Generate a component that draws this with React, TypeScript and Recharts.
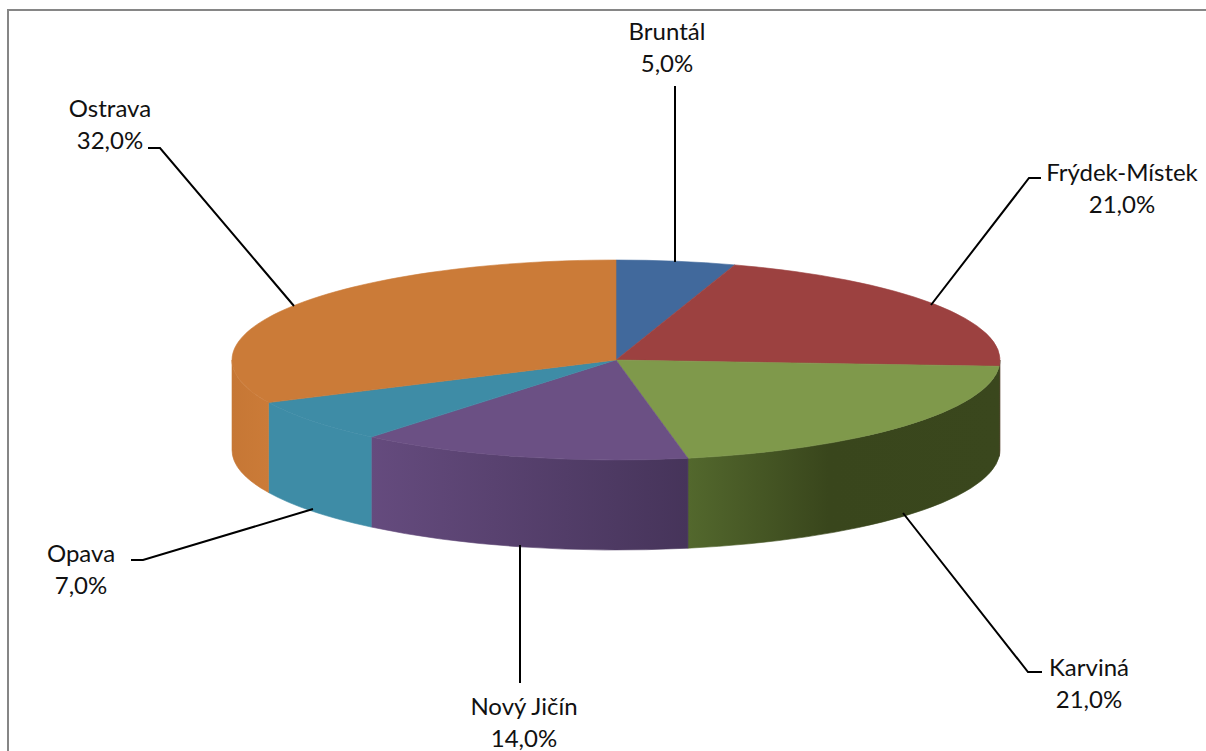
import { PieChart, Pie } from 'recharts';

const categories = ['Bruntál', 'Frýdek-Místek', 'Karviná', 'Nový Jičín', 'Opava', 'Ostrava'];
const shares = [5, 21, 21, 14, 7, 32];
const topColors = ['#41699c', '#9c4140', '#7f994b', '#6b5084', '#3e8ca6', '#cb7b38'];
const wallColors = ['#2c4a6e', '#4a3320', 'url(#wallGreen)', 'url(#wallPurple)', '#3e8ca6', 'url(#wallOrange)'];

// where the Excel-style callouts sit, same order as categories
const labelCenters = [
  [667, 30],
  [1122, 171],
  [1089, 666],
  [524, 705],
  [81, 552],
  [110, 107],
];
const leaderLines = [
  '675,86 675,262',
  '1041,178 1029,178 931,305',
  '903,513 1028,672 1042,672',
  '520,545 520,683',
  '313,509 143,560 131,560',
  '148,148 160,148 294,306',
];

const table = categories.map((name, i) => ({
  name,
  value: shares[i],
  fill: topColors[i],
  wall: wallColors[i],
}));

const CX = 616;
const CY = 360;
const RADIUS = 384;
const SQUASH = 100 / 384; // tilt of the disc
const DEPTH = 90;
const RAD = Math.PI / 180;

function rim(cx: number, cy: number, r: number, angle: number, drop = 0) {
  const x = cx + r * Math.cos(angle * RAD);
  const y = cy - r * SQUASH * Math.sin(angle * RAD) + drop;
  return `${x.toFixed(2)} ${y.toFixed(2)}`;
}

function DiscSlice(props: any) {
  const { cx, cy, outerRadius: r, startAngle, endAngle, fill, wall } = props;
  const ry = r * SQUASH;
  const large = startAngle - endAngle > 180 ? 1 : 0;
  const top =
    `M ${cx} ${cy} L ${rim(cx, cy, r, startAngle)} ` +
    `A ${r} ${ry} 0 ${large} 1 ${rim(cx, cy, r, endAngle)} Z`;

  // only the front half of the rim shows a side wall
  const from = Math.min(startAngle, 0);
  const to = Math.max(endAngle, -180);
  const side =
    from > to
      ? `M ${rim(cx, cy, r, from)} A ${r} ${ry} 0 0 1 ${rim(cx, cy, r, to)} ` +
        `L ${rim(cx, cy, r, to, DEPTH)} A ${r} ${ry} 0 0 0 ${rim(cx, cy, r, from, DEPTH)} Z`
      : null;

  return (
    <g>
      {side && <path d={side} fill={wall} stroke={wall} strokeWidth={0.6} />}
      <path d={top} fill={fill} stroke={fill} strokeWidth={0.6} />
    </g>
  );
}

function Callout(props: any) {
  const { index, name, percent } = props;
  const [x, y] = labelCenters[index];
  const text = `${(percent * 100).toFixed(1).replace('.', ',')}%`;
  return (
    <g>
      <polyline points={leaderLines[index]} fill="none" stroke="#000" strokeWidth={2} />
      <text x={x} y={y} textAnchor="middle" dominantBaseline="central" fontFamily="Lato" fontSize={24} fill="#111">
        {name}
      </text>
      <text x={x} y={y + 32} textAnchor="middle" dominantBaseline="central" fontFamily="Lato" fontSize={24} fill="#111">
        {text}
      </text>
    </g>
  );
}

export default function App() {
  return (
    <div style={{ position: 'absolute', left: 0, top: 0, width: 1206, height: 751, overflow: 'hidden', background: '#fff' }}>
      <div
        style={{
          position: 'absolute',
          left: 7,
          top: 9,
          width: 1206,
          height: 800,
          border: '2px solid #868686',
        }}
      />
      <PieChart width={1206} height={751} margin={{ top: 0, right: 0, bottom: 0, left: 0 }}>
        <defs>
          <linearGradient id="wallGreen" gradientUnits="userSpaceOnUse" x1={688} x2={1000} y1={0} y2={0}>
            <stop offset="0" stopColor="#53682d" />
            <stop offset="0.45" stopColor="#39461c" />
            <stop offset="1" stopColor="#3a471d" />
          </linearGradient>
          <linearGradient id="wallPurple" gradientUnits="userSpaceOnUse" x1={371} x2={688} y1={0} y2={0}>
            <stop offset="0" stopColor="#654b7e" />
            <stop offset="1" stopColor="#46345a" />
          </linearGradient>
          <linearGradient id="wallOrange" gradientUnits="userSpaceOnUse" x1={232} x2={269} y1={0} y2={0}>
            <stop offset="0" stopColor="#c67735" />
            <stop offset="1" stopColor="#cb7b38" />
          </linearGradient>
        </defs>
        <Pie
          data={table}
          dataKey="value"
          nameKey="name"
          cx={CX}
          cy={CY}
          innerRadius={0}
          outerRadius={RADIUS}
          startAngle={90}
          endAngle={-270}
          stroke="none"
          shape={DiscSlice}
          inactiveShape={DiscSlice}
          activeShape={DiscSlice}
          label={Callout}
          labelLine={false}
          isAnimationActive={false}
        />
      </PieChart>
    </div>
  );
}
